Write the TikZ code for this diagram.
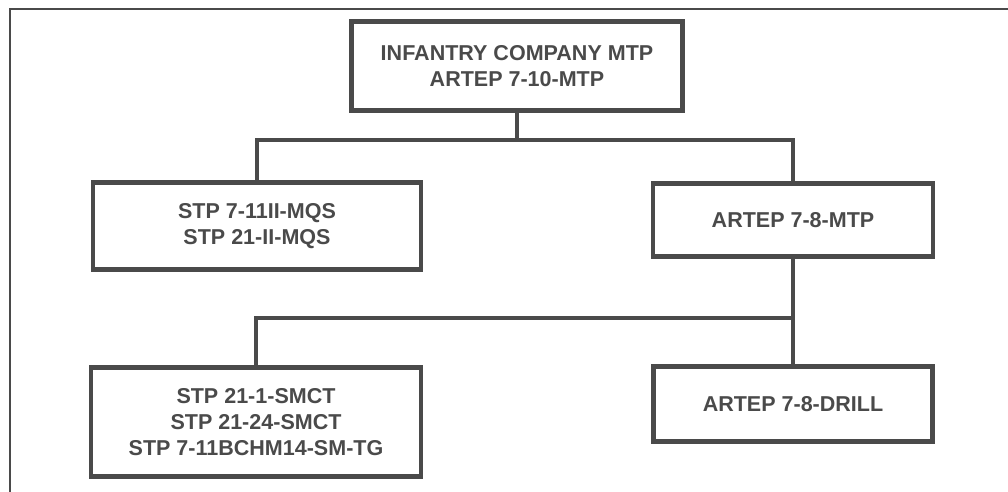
\documentclass[tikz,border=0pt]{standalone}
\usepackage{fontspec}
\setmainfont{Liberation Sans}
\usepackage{xcolor}
\usepackage{tikz}
\usetikzlibrary{positioning, calc}

\definecolor{inkgray}{HTML}{4A4A4A}

\begin{document}
\begin{tikzpicture}[
    x=0.025cm, y=-0.025cm,
    box/.style={rectangle, draw=inkgray, line width=3.2pt, align=center, inner sep=0pt,
        font=\fontsize{15.3}{18.5}\selectfont\bfseries, text=inkgray},
    link/.style={draw=inkgray, line width=2.8pt},
    frame/.style={draw=inkgray, line width=2pt},
]
\useasboundingbox (0,0) rectangle (1008,492);

% page frame (top and left edges only)
\draw[frame] (1008,9) -- (10,9) -- (10,492);

\node[box, minimum width=331*0.025cm, minimum height=89*0.025cm] (mtp) at (517,66)
    {INFANTRY COMPANY MTP\\ARTEP 7-10-MTP};
\node[box, minimum width=328*0.025cm, minimum height=87*0.025cm] (mqs) at (257,226)
    {STP 7-11II-MQS\\STP 21-II-MQS};
\node[box, minimum width=280*0.025cm, minimum height=73*0.025cm] (plt) at (793,220)
    {ARTEP 7-8-MTP};
\node[box, minimum width=330*0.025cm, minimum height=109*0.025cm] (smct) at (256,422)
    {STP 21-1-SMCT\\STP 21-24-SMCT\\STP 7-11BCHM14-SM-TG};
\node[box, minimum width=279*0.025cm, minimum height=75*0.025cm] (drill) at (793,404)
    {ARTEP 7-8-DRILL};

\coordinate (top) at (517,140);
\coordinate (mid) at (793,318);

\draw[link] (mtp.south) -- (top);
\draw[link] (mqs.north) |- (top) -| (plt.north);
\draw[link] (plt.south) -- (drill.north);
\draw[link] (smct.north) |- (mid);
\end{tikzpicture}
\end{document}
